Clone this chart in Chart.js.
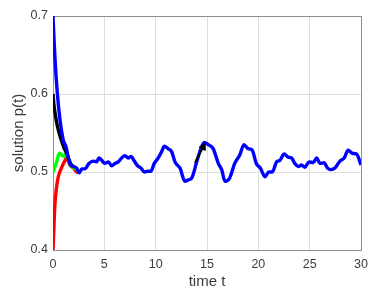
<!DOCTYPE html>
<html>
<head>
<meta charset="utf-8">
<script src="https://cdn.jsdelivr.net/npm/chart.js@4.4.0/dist/chart.umd.min.js"></script>
<style>
  body { margin: 0; background: #fff; }
  canvas { display: block; }
</style>
</head>
<body>
<canvas id="c" width="377" height="292"></canvas>
<script>
// time values and solution values
const blueT = [0, 0.1, 0.2, 0.42, 0.68, 1.0, 1.27, 1.49, 1.72, 1.98, 2.3, 2.56, 2.8, 3.1, 3.5, 3.9, 4.25, 4.48, 4.74, 5.06, 5.39, 5.7, 6.04, 6.36, 6.69, 7.0, 7.33, 7.6, 7.92, 8.24, 8.57, 8.9, 9.22, 9.54, 9.86, 10.25, 10.58, 10.84, 11.2, 11.56, 11.88, 12.37, 12.85, 13.18, 13.5, 14.0, 14.3, 14.73, 15.12, 15.6, 16.1, 16.43, 16.75, 17.2, 17.7, 18.2, 18.6, 19.0, 19.4, 19.8, 20.2, 20.64, 21.03, 21.36, 21.78, 22.1, 22.52, 22.9, 23.24, 23.56, 23.89, 24.2, 24.54, 24.93, 25.35, 25.68, 26.0, 26.4, 26.74, 27.07, 27.46, 27.95, 28.36, 28.75, 29.14, 29.57, 30.0];
const blueP = [0.7, 0.67, 0.644, 0.601, 0.567, 0.541, 0.532, 0.518, 0.509, 0.507, 0.505, 0.499, 0.504, 0.504, 0.511, 0.514, 0.513, 0.518, 0.515, 0.511, 0.513, 0.508, 0.511, 0.513, 0.518, 0.521, 0.518, 0.520, 0.514, 0.508, 0.505, 0.5, 0.501, 0.501, 0.511, 0.518, 0.526, 0.533, 0.530, 0.526, 0.513, 0.505, 0.488, 0.490, 0.492, 0.513, 0.526, 0.538, 0.535, 0.530, 0.511, 0.503, 0.488, 0.492, 0.511, 0.522, 0.535, 0.530, 0.528, 0.511, 0.505, 0.494, 0.50, 0.50, 0.513, 0.515, 0.523, 0.519, 0.518, 0.511, 0.507, 0.509, 0.506, 0.513, 0.512, 0.518, 0.511, 0.512, 0.505, 0.503, 0.505, 0.514, 0.518, 0.528, 0.524, 0.523, 0.509];

const blackT = [0, 0.1, 0.2, 0.36, 0.6, 0.85, 1.07, 1.33, 1.5, 1.75, 2.0];
const blackP = [0.6, 0.585, 0.576, 0.563, 0.55, 0.539, 0.531, 0.524, 0.518, 0.51, 0.507];

const greenT = [0, 0.36, 0.61, 0.85, 1.07, 1.33, 1.59, 1.82, 2.1, 2.4];
const greenP = [0.5, 0.513, 0.524, 0.522, 0.52, 0.524, 0.513, 0.507, 0.505, 0.502];

const redT = [0, 0.05, 0.17, 0.35, 0.52, 0.85, 1.17, 1.33, 1.65, 1.98, 2.3, 2.5];
const redP = [0.4, 0.415, 0.455, 0.481, 0.494, 0.506, 0.515, 0.518, 0.509, 0.505, 0.5, 0.499];

const arrowT = [13.83, 14.63];
const arrowP = [0.512, 0.532];

const xTicks = [0, 5, 10, 15, 20, 25, 30];
const yTicks = [0.4, 0.5, 0.6, 0.7];

function pts(ts, ps){
    let out = []
    for(let i = 0; i < ts.length; i++)
        out.push({x: ts[i], y: ps[i]});
    return out
}

function line(data, color, order){
    return {
        data: data,
        borderColor: color,
        borderWidth: 3.4,
        pointRadius: 0,
        cubicInterpolationMode: 'monotone',
        fill: false,
        order: order
    }
}

// MATLAB style box round the axes
const boxPlugin = {
    id: 'box',
    beforeDatasetsDraw(chart){
        const a = chart.chartArea, ctx = chart.ctx;
        ctx.save();
        ctx.strokeStyle = '#8f8f8f';
        ctx.lineWidth = 1;
        ctx.strokeRect(Math.round(a.left) + 0.5, Math.round(a.top) + 0.5,
                       Math.round(a.right - a.left), Math.round(a.bottom - a.top));
        ctx.restore();
    }
};

const font = "'Liberation Sans', Arial, sans-serif";
const textColor = '#3c3c3c';

const arrow = line(pts(arrowT, arrowP), '#000', -1);
arrow.borderWidth = 2;
arrow.cubicInterpolationMode = 'default';
arrow.tension = 0;
arrow.pointRadius = [0, 4];
arrow.pointStyle = 'triangle';
arrow.rotation = 29;
arrow.pointBackgroundColor = '#000';
arrow.pointBorderColor = '#000';
arrow.pointBorderWidth = 1;

const config = {
    type: 'line',
    data: {
        datasets: [
            line(pts(redT, redP), 'rgb(255,0,0)', 3),
            line(pts(greenT, greenP), 'rgb(0,255,0)', 2),
            line(pts(blackT, blackP), 'rgb(0,0,0)', 1),
            line(pts(blueT, blueP), 'rgb(0,0,255)', 0),
            arrow
        ]
    },
    options: {
        responsive: false,
        animation: false,
        layout: { padding: { left: 0, right: 16, top: 16, bottom: 0 } },
        plugins: { legend: { display: false }, tooltip: { enabled: false } },
        scales: {
            x: {
                type: 'linear',
                min: 0, max: 30,
                afterBuildTicks: s => { s.ticks = xTicks.map(v => ({value: v})); },
                afterFit: s => { s.height = 42; },
                grid: { color: '#dedede', drawTicks: false },
                border: { display: false },
                ticks: { padding: 7, color: textColor, font: { family: font, size: 12.5 }, maxRotation: 0 },
                title: { display: true, text: 'time t', color: textColor,
                         font: { family: font, size: 15 }, padding: { top: 0, bottom: 1 } }
            },
            y: {
                type: 'linear',
                min: 0.4, max: 0.7,
                afterBuildTicks: s => { s.ticks = yTicks.map(v => ({value: v})); },
                afterFit: s => { s.width = 53; },
                grid: { color: '#dedede', drawTicks: false },
                border: { display: false },
                ticks: { padding: 5, color: textColor, font: { family: font, size: 12.5 },
                         callback: v => v.toFixed(1) },
                title: { display: true, text: 'solution p(t)', color: textColor,
                         font: { family: font, size: 15 }, padding: { top: 10, bottom: 0 } }
            }
        }
    },
    plugins: [boxPlugin]
};

let c = document.getElementById('c').getContext('2d')
new Chart(c, config)
</script>
</body>
</html>
